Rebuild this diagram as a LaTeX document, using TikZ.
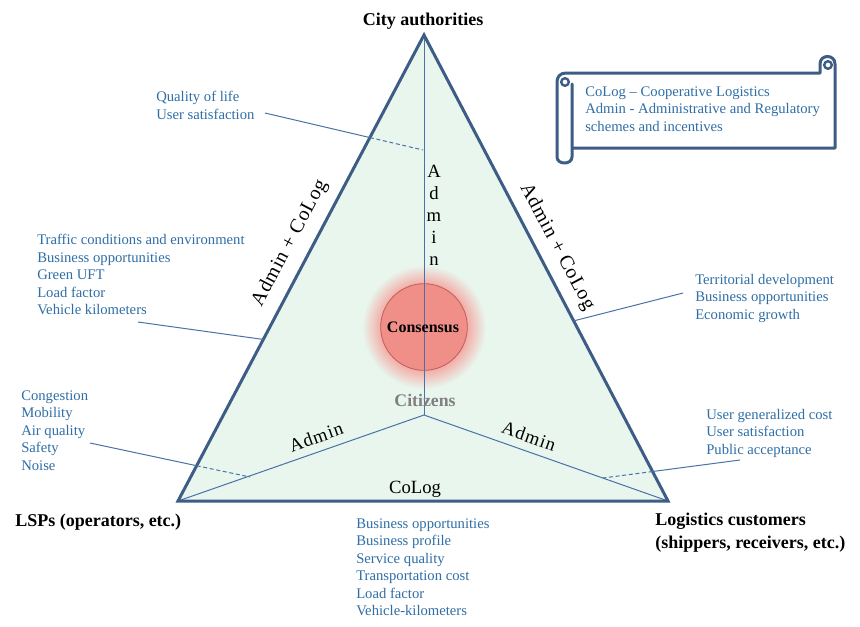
\documentclass[tikz,border=0pt]{standalone}
\usepackage{fontspec}
\setmainfont{Liberation Serif}
\definecolor{edgeblue}{RGB}{61,93,135}
\definecolor{thinblue}{RGB}{74,114,166}
\definecolor{lblblue}{RGB}{47,110,166}
\definecolor{mint}{RGB}{232,246,238}
\definecolor{consred}{RGB}{240,142,136}
\definecolor{consborder}{RGB}{190,95,90}
\definecolor{glowred}{RGB}{244,168,162}
\definecolor{citgray}{RGB}{128,128,128}
\pgfdeclareradialshading{glowshade}{\pgfpoint{0bp}{0bp}}{color(0bp)=(glowred); color(17bp)=(glowred); color(25bp)=(mint); color(50bp)=(mint)}
\newcommand{\blk}[1]{\begin{tabular}[t]{@{}l@{}}#1\end{tabular}}
\newcommand{\cblk}[1]{\begin{tabular}[t]{@{}c@{}}#1\end{tabular}}
\tikzset{
  lbltext/.style={font=\fontsize{11}{13.125}\selectfont, text=lblblue, anchor=base west, inner sep=0pt},
  role/.style={font=\fontsize{13.5}{17.25}\selectfont\bfseries, inner sep=0pt},
  scheme/.style={font=\fontsize{14}{16.5}\selectfont, inner sep=0pt},
  spaced/.style={font=\fontsize{15}{17}\selectfont\addfontfeatures{LetterSpace=4}, inner sep=0pt},
  spacedsmall/.style={font=\fontsize{14}{17}\selectfont\addfontfeatures{LetterSpace=5}, inner sep=0pt},
  conn/.style={draw=thinblue, line width=0.75pt},
  conndash/.style={conn, dash pattern=on 3pt off 2pt},
  inner/.style={draw=thinblue, line width=0.75pt},
  border/.style={draw=edgeblue, line width=2.25pt, line join=miter},
  scroll/.style={draw=edgeblue, line width=2.25pt, line join=round, line cap=round}
}
\begin{document}
\begin{tikzpicture}[x=0.75pt,y=-0.75pt]
\fill[white] (0,0) rectangle (860,626);
\useasboundingbox (0,0) rectangle (860,626);

% triangle
\coordinate (A) at (424,35);
\coordinate (L) at (178,501);
\coordinate (R) at (668,501);
\coordinate (C) at (424,415);
\fill[mint] (A) -- (L) -- (R) -- cycle;

% consensus glow and circle
\shade[shading=glowshade] (424,327) circle (62);
\node (cons) [circle, minimum size=65pt, inner sep=0pt, fill=consred, draw=consborder, line width=0.6pt] at (424,327) {};

% inner lines
\draw[inner] (A) -- (C);
\draw[inner] (L) -- (C) -- (R);
\draw[border] (A) -- (L) -- (R) -- cycle;

\node (constext) [font=\fontsize{12}{14}\selectfont\bfseries, inner sep=0pt] at (423,327) {Consensus};
\node (citizens) [font=\fontsize{13.3}{16}\selectfont\bfseries, text=citgray, inner sep=0pt, anchor=base] at (425,406) {Citizens};

% scheme labels
\node (vadmin) [scheme, anchor=base] at (434,177) {\cblk{A\\d\\m\\i\\n}};
\node (lac) [spaced, rotate=62.2] at (290,243) {Admin + CoLog};
\node (rac) [spaced, rotate=-62.2] at (557,247) {Admin + CoLog};
\node (lad) [spacedsmall, rotate=19.3] at (316,437) {Admin};
\node (rad) [spacedsmall, rotate=-19.3] at (529,436) {Admin};
\node (colog) [scheme, anchor=base] at (415,493) {CoLog};

% stakeholder labels
\node (city) [role, anchor=base] at (423,25) {City authorities};
\node (lsp) [role, anchor=base west] at (15,526) {LSPs (operators, etc.)};
\node (cust) [role, anchor=base west] at (655,525) {\blk{Logistics customers\\(shippers, receivers, etc.)}};

% indicator blocks
\node (qol) [lbltext] at (156,101.5) {\blk{Quality of life\\User satisfaction}};
\node (traffic) [lbltext] at (37,244.5) {\blk{Traffic conditions and environment\\Business opportunities\\Green UFT\\Load factor\\Vehicle kilometers}};
\node (terr) [lbltext] at (695,284) {\blk{Territorial development\\Business opportunities\\Economic growth}};
\node (cong) [lbltext] at (21,400) {\blk{Congestion\\Mobility\\Air quality\\Safety\\Noise}};
\node (ugc) [lbltext] at (706,419) {\blk{User generalized cost\\User satisfaction\\Public acceptance}};
\node (bus) [lbltext] at (356,528.3) {\blk{Business opportunities\\Business profile\\Service quality\\Transportation cost\\Load factor\\Vehicle-kilometers}};

% connectors
\coordinate (q1) at (265,113);
\coordinate (q2) at (423,150);
\coordinate (qx) at (intersection of q1--q2 and L--A);
\draw[conn] (q1) -- (qx);
\draw[conndash] (qx) -- (q2);

\coordinate (t1) at (138,322);
\coordinate (t2) at (253,338);
\coordinate (tx) at (intersection of t1--t2 and L--A);
\draw[conn] (t1) -- (tx);

\coordinate (r1) at (683,293);
\coordinate (r2) at (577,320);
\coordinate (rx) at (intersection of r1--r2 and A--R);
\draw[conn] (r1) -- (rx);

\coordinate (c1) at (90,443);
\coordinate (c2) at (250,477);
\coordinate (cx) at (intersection of c1--c2 and L--A);
\draw[conn] (c1) -- (cx);
\draw[conndash] (cx) -- (c2);

\coordinate (u1) at (740,460);
\coordinate (u2) at (603,478);
\coordinate (ux) at (intersection of u1--u2 and A--R);
\draw[conn] (u1) -- (ux);
\draw[conndash] (ux) -- (u2);

% legend scroll
\fill[white] (572,73) rectangle (835,148);
\draw[scroll] (572,148) -- (835,148) -- (835,64)
  .. controls (835,54) and (820,54) .. (820,64) -- (820,73) -- (566,73)
  .. controls (560,73) and (557,77) .. (557,82) -- (557,157)
  .. controls (557,165) and (572,165) .. (572,157) -- (572,84);
\draw[scroll, line width=1.8pt] (565,82) circle (3.8);
\draw[scroll, line width=1.8pt] (828,65) circle (3.8);
\node (legend) [lbltext] at (585,96) {\blk{CoLog – Cooperative Logistics\\Admin - Administrative and Regulatory\\schemes and incentives}};
\end{tikzpicture}
\end{document}
